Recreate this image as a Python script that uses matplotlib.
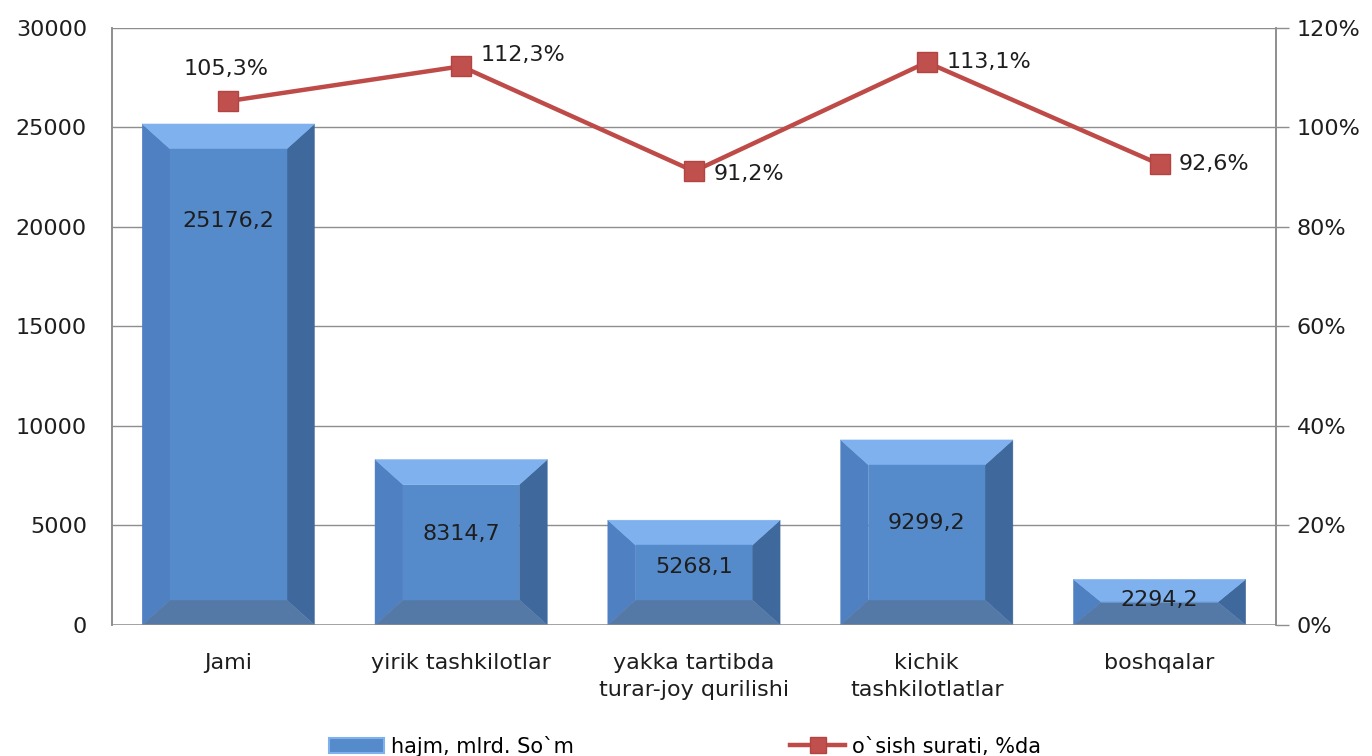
import numpy as np
import matplotlib
matplotlib.use('Agg')
import matplotlib.pyplot as plt
from matplotlib.patches import Polygon, Patch
from matplotlib.lines import Line2D

categories = ['Jami', 'yirik tashkilotlar', 'yakka tartibda\nturar-joy qurilishi',
              'kichik\ntashkilotlatlar', 'boshqalar']
volume = [25176.2, 8314.7, 5268.1, 9299.2, 2294.2]
volume_labels = ['25176,2', '8314,7', '5268,1', '9299,2', '2294,2']
growth = [105.3, 112.3, 91.2, 113.1, 92.6]
growth_labels = ['105,3%', '112,3%', '91,2%', '113,1%', '92,6%']

plt.rcParams['font.family'] = ['DejaVu Sans']

# bevel face colours
c_front = '#568BCB'
c_top = '#7EB1EE'
c_left = '#4F80C2'
c_right = '#3F699D'
c_bottom = '#5479A6'
c_line = '#BE4B48'
c_grid = '#8E8E8E'
c_text = '#1e1e1e'
fs = 16

fig = plt.figure(figsize=(13.72, 7.56), dpi=100)
ax = fig.add_axes([0.0816, 0.1733, 0.8484, 0.7897])
ax2 = ax.twinx()

x = np.arange(len(categories))
w = 0.74
bx = 0.12        # bevel width, in category units
by_full = 1260   # bevel height, in value units

for i, v in enumerate(volume):
    x0, x1 = x[i] - w / 2, x[i] + w / 2
    by = min(by_full, v / 2)
    faces = [
        ([(x0, 0), (x0, v), (x0 + bx, v - by), (x0 + bx, by)], c_left),
        ([(x1, 0), (x1, v), (x1 - bx, v - by), (x1 - bx, by)], c_right),
        ([(x0, 0), (x1, 0), (x1 - bx, by), (x0 + bx, by)], c_bottom),
        ([(x0, v), (x1, v), (x1 - bx, v - by), (x0 + bx, v - by)], c_top),
        ([(x0 + bx, by), (x1 - bx, by), (x1 - bx, v - by), (x0 + bx, v - by)], c_front),
    ]
    for pts, col in faces:
        ax.add_patch(Polygon(pts, closed=True, facecolor=col, edgecolor=col,
                             linewidth=0.3, zorder=2))
    ly = max(v * 0.55, v - 4900)
    ax.text(x[i], ly, volume_labels[i], ha='center', va='center',
            fontsize=fs, color=c_text, zorder=5)

ax.set_xlim(-0.5, len(categories) - 0.5)
ax.set_ylim(0, 30000)
ax.set_yticks(np.arange(0, 30001, 5000))
ax.yaxis.grid(True, color=c_grid, linewidth=1.0)
ax.set_axisbelow(True)
ax.set_xticks(x)
ax.set_xticklabels(categories, fontsize=fs, color=c_text, linespacing=1.45)
ax.tick_params(axis='x', length=0, pad=20)
ax.tick_params(axis='y', length=0, labelsize=fs, pad=18, colors=c_text)

ax2.plot(x, growth, color=c_line, linewidth=3.2, marker='s', markersize=14,
         markerfacecolor='#C0504D', markeredgecolor='#B24542', zorder=4)
ax2.set_ylim(0, 120)
ax2.set_yticks(np.arange(0, 121, 20))
ax2.set_yticklabels([f'{t}%' for t in range(0, 121, 20)])
ax2.tick_params(axis='y', length=9, width=1.0, labelsize=fs, pad=6, labelcolor=c_text,
                color=c_grid)

# label offsets in points (dx, dy)
offsets = [(-2, 23), (14, 8), (14, -2), (14, 0), (14, 0)]
for i, g in enumerate(growth):
    ha = 'center' if i == 0 else 'left'
    ax2.annotate(growth_labels[i], (x[i], g), xytext=offsets[i],
                 textcoords='offset points', ha=ha, va='center',
                 fontsize=fs, color=c_text)

for a in (ax, ax2):
    for s in ('top', 'bottom'):
        a.spines[s].set_visible(False)
    for s in ('left', 'right'):
        a.spines[s].set_color(c_grid)
        a.spines[s].set_linewidth(1.2)
ax.axhline(0, color=c_grid, linewidth=1.8, zorder=3)

handles = [Patch(facecolor=c_front, edgecolor=c_top, linewidth=1.5),
           Line2D([0], [0], color=c_line, linewidth=3.2, marker='s', markersize=12,
                  markerfacecolor='#C0504D', markeredgecolor='#B24542')]
fig.legend(handles, ['hajm, mlrd. So`m', 'o`sish surati, %da'],
           loc='center', bbox_to_anchor=(0.4994, 0.013), ncol=2, frameon=False,
           columnspacing=10.4, handlelength=2.6, handletextpad=0.35,
           prop={'family': ['Liberation Sans Narrow', 'DejaVu Sans'], 'size': 15})

fig.savefig('out.png', dpi=100)
